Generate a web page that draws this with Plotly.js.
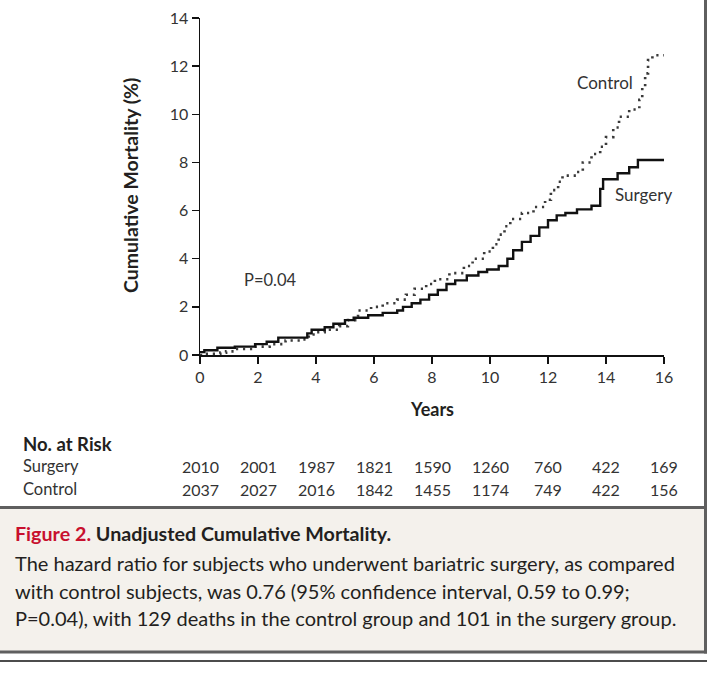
<!DOCTYPE html>
<html>
<head>
<meta charset="utf-8">
<script src="https://cdn.plot.ly/plotly-3.0.1.min.js"></script>
<style>
  html, body { margin: 0; padding: 0; background: #ffffff; }
  #chart { width: 708px; height: 696px; }
</style>
</head>
<body>
<div id="chart"></div>
<script>
// ---- Data ----
const surgeryYears = [0, 0.15, 0.6, 1.2, 1.9, 2.3, 2.7, 3.7, 3.85, 4.3, 4.6, 5.0, 5.3, 5.8, 6.3, 6.8, 7.0, 7.3, 7.6, 7.9, 8.2, 8.5, 8.8, 9.2, 9.6, 9.9, 10.3, 10.6, 10.8, 11.1, 11.4, 11.7, 12.0, 12.3, 12.6, 13.0, 13.5, 13.8, 13.9, 14.4, 14.8, 15.1, 16.0];
const surgeryPct   = [0.12, 0.2, 0.3, 0.35, 0.45, 0.55, 0.72, 0.9, 1.05, 1.15, 1.3, 1.45, 1.55, 1.65, 1.75, 1.85, 2.0, 2.15, 2.3, 2.5, 2.7, 2.95, 3.1, 3.3, 3.45, 3.55, 3.7, 4.0, 4.35, 4.7, 4.95, 5.3, 5.6, 5.8, 5.9, 6.05, 6.2, 6.9, 7.3, 7.55, 7.8, 8.1, 8.1];

const controlYears = [0, 0.2, 0.7, 0.9, 1.2, 1.8, 2.4, 2.95, 3.5, 3.75, 4.0, 4.3, 4.8, 5.1, 5.35, 5.45, 5.9, 6.3, 6.8, 7.1, 7.4, 7.8, 8.1, 8.6, 9.1, 9.4, 9.8, 10.1, 10.3, 10.5, 10.7, 11.1, 11.5, 11.9, 12.1, 12.35, 12.5, 13.0, 13.2, 13.5, 13.8, 14.0, 14.25, 14.45, 14.8, 15.15, 15.25, 15.35, 15.45, 15.6, 16.0];
const controlPct   = [0.0, 0.05, 0.1, 0.15, 0.25, 0.35, 0.45, 0.6, 0.65, 0.85, 0.95, 1.05, 1.2, 1.45, 1.6, 1.85, 2.0, 2.15, 2.3, 2.5, 2.75, 2.95, 3.15, 3.4, 3.7, 4.0, 4.3, 4.6, 5.0, 5.35, 5.65, 5.9, 6.15, 6.45, 6.85, 7.2, 7.45, 7.6, 8.0, 8.35, 8.65, 9.05, 9.45, 9.9, 10.2, 10.6, 11.1, 11.7, 12.25, 12.45, 12.45];

const riskYears   = [0, 2, 4, 6, 8, 10, 12, 14, 16];
const riskSurgery = [2010, 2001, 1987, 1821, 1590, 1260, 760, 422, 169];
const riskControl = [2037, 2027, 2016, 1842, 1455, 1174, 749, 422, 156];

const xTicks = [0, 2, 4, 6, 8, 10, 12, 14, 16];
const yTicks = [0, 2, 4, 6, 8, 10, 12, 14];

const captionTitleRed  = "Figure 2.";
const captionTitleRest = "Unadjusted Cumulative Mortality.";
const captionLines = [
  "The hazard ratio for subjects who underwent bariatric surgery, as compared",
  "with control subjects, was 0.76 (95% confidence interval, 0.59 to 0.99;",
  "P=0.04), with 129 deaths in the control group and 101 in the surgery group."
];

// ---- Layout geometry ----
const W = 708, H = 696;
const M = { l: 200, r: 44, t: 18, b: 341 };
const PW = W - M.l - M.r, PH = H - M.t - M.b;
const px = x => (x - M.l) / PW;          // pixel -> paper x
const py = y => (H - M.b - y) / PH;      // pixel -> paper y

const FONT = "Lato, 'Open Sans', sans-serif";
const TXT = "#231f20";
const GREY = "#333333";

const traces = [
  {
    x: controlYears, y: controlPct, type: "scatter", mode: "lines",
    line: { shape: "hv", color: "#3a3a3a", width: 2.6, dash: "2.2px,4.8px" },
    name: "Control", hoverinfo: "skip"
  },
  {
    x: surgeryYears, y: surgeryPct, type: "scatter", mode: "lines",
    line: { shape: "hv", color: "#111111", width: 2.4 },
    name: "Surgery", hoverinfo: "skip"
  }
];

const annotations = [];
function addText(text, x, y, opts) {
  annotations.push(Object.assign({
    text: text, x: x, y: y, xref: "paper", yref: "paper",
    showarrow: false, xanchor: "left", yanchor: "middle",
    font: { family: FONT, size: 16, color: TXT }
  }, opts || {}));
}

// curve labels
addText("Control", 12.93, 11.34, { xref: "x", yref: "y", font: { family: FONT, size: 17, color: GREY } });
addText("Surgery", 14.24, 6.65, { xref: "x", yref: "y", font: { family: FONT, size: 17, color: GREY } });
addText("P=0.04", 1.45, 3.12, { xref: "x", yref: "y", font: { family: FONT, size: 16.5, color: GREY } });

// axis titles
addText("<b>Years</b>", px(432), py(409), { xanchor: "center", font: { family: FONT, size: 18, color: TXT } });
addText("<b>Cumulative Mortality (%)</b>", px(130), py(186), { xanchor: "center", textangle: -90, font: { family: FONT, size: 19.5, color: TXT } });

// risk table
addText("<b>No. at Risk</b>", px(21), py(444), { font: { family: FONT, size: 18.5, color: TXT } });
addText("Surgery", px(21), py(466), { font: { family: FONT, size: 16.5, color: GREY } });
addText("Control", px(21), py(489), { font: { family: FONT, size: 16.5, color: GREY } });
riskYears.forEach((yr, i) => {
  addText(String(riskSurgery[i]), yr, py(466), { xref: "x", xanchor: "center", font: { family: FONT, size: 16, color: GREY } });
  addText(String(riskControl[i]), yr, py(489), { xref: "x", xanchor: "center", font: { family: FONT, size: 16, color: GREY } });
});

// caption
addText('<b><span style="color:#c8102e">' + captionTitleRed + '</span> ' + captionTitleRest + '</b>',
        px(13), py(533), { font: { family: FONT, size: 19.7, color: TXT } });
const capY = [563, 591, 618];
captionLines.forEach((t, i) => addText(t, px(13), py(capY[i]), { font: { family: FONT, size: 20, color: TXT } }));

const shapes = [
  // caption box fill + top/bottom borders
  { type: "rect", xref: "paper", yref: "paper", x0: px(-5), x1: px(705.5), y0: py(507.5), y1: py(652),
    fillcolor: "#f4f1ec", line: { color: "#5f5f5f", width: 3 }, layer: "below" },
  // right vertical border running full height
  { type: "line", xref: "paper", yref: "paper", x0: px(705.5), x1: px(705.5), y0: py(-2), y1: py(653.5),
    line: { color: "#5f5f5f", width: 3 } },
  // thin black rule below caption
  { type: "line", xref: "paper", yref: "paper", x0: px(-2), x1: px(707), y0: py(661), y1: py(661),
    line: { color: "#111", width: 1.5 } }
];

const layout = {
  width: W, height: H,
  margin: M,
  paper_bgcolor: "#ffffff", plot_bgcolor: "#ffffff",
  showlegend: false,
  font: { family: FONT, color: TXT },
  xaxis: {
    range: [0, 16], tickvals: xTicks, ticktext: xTicks.map(String),
    showline: true, linecolor: "#111", linewidth: 1.5,
    ticks: "outside", ticklen: 7, tickwidth: 1.3, tickcolor: "#111",
    showgrid: false, zeroline: false, fixedrange: true,
    tickfont: { family: FONT, size: 16, color: GREY }
  },
  yaxis: {
    range: [0, 14], tickvals: yTicks, ticktext: yTicks.map(String),
    showline: true, linecolor: "#111", linewidth: 1.5,
    ticks: "outside", ticklen: 7, tickwidth: 1.3, tickcolor: "#111",
    showgrid: false, zeroline: false, fixedrange: true,
    tickfont: { family: FONT, size: 16, color: GREY }
  },
  annotations: annotations,
  shapes: shapes
};

Plotly.newPlot("chart", traces, layout, { displayModeBar: false, staticPlot: true });
</script>
</body>
</html>
